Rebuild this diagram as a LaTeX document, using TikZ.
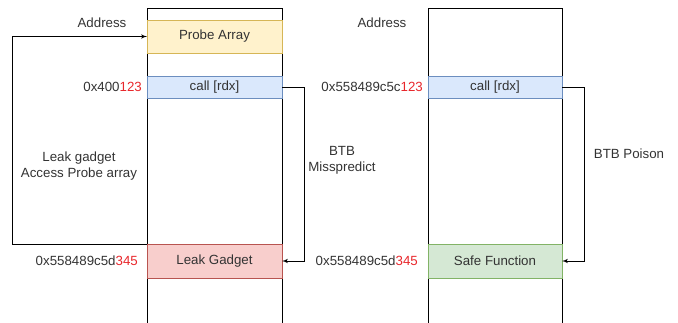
\documentclass[tikz,border=0pt]{standalone}
\usepackage{fontspec}
\setmainfont{Liberation Sans}
\usetikzlibrary{arrows}

\definecolor{probefill}{HTML}{FFF2CC}
\definecolor{probedraw}{HTML}{D6B656}
\definecolor{callfill}{HTML}{DAE8FC}
\definecolor{calldraw}{HTML}{6C8EBF}
\definecolor{leakfill}{HTML}{F8CECC}
\definecolor{leakdraw}{HTML}{B85450}
\definecolor{safefill}{HTML}{D5E8D4}
\definecolor{safedraw}{HTML}{82B366}
\definecolor{hexred}{HTML}{E8262B}
\definecolor{txt}{HTML}{333333}

\begin{document}
\begin{tikzpicture}[x=1pt,y=-1pt]

\tikzset{every node/.style = {font=\fontsize{13.3}{16}\selectfont, text=txt}}
\tikzset{cell/.style = {shape=rectangle, draw, line width=1pt, minimum width=135pt, inner sep=0pt, outer sep=0pt}}
\tikzset{addr/.style = {anchor=east, inner sep=0pt}}
\tikzset{note/.style = {align=center, inner sep=0pt}}
\tikzset{edge/.style = {->,> = latex', line width=1pt}}

\useasboundingbox (0,0) rectangle (678,322);

%memory columns
\draw[line width=1pt] (147,330) -- (147,8) -- (282,8) -- (282,330);
\draw[line width=1pt] (428,330) -- (428,8) -- (562,8) -- (562,330);

%cells
\node[cell, fill=probefill, draw=probedraw, minimum height=33pt] (probe) at (214.5,36.5) {Probe Array};
\node[cell, fill=callfill, draw=calldraw, minimum height=22pt] (call1) at (214.5,87) {call [rdx]};
\node[cell, fill=leakfill, draw=leakdraw, minimum height=34pt] (leak) at (214.5,261) {Leak Gadget};
\node[cell, fill=callfill, draw=calldraw, minimum height=22pt, minimum width=134pt] (call2) at (495,87) {call [rdx]};
\node[cell, fill=safefill, draw=safedraw, minimum height=34pt, minimum width=134pt] (safe) at (495,261) {Safe Function};

%addresses
\node (head1) at (102,23) {Address};
\node (head2) at (382,23) {Address};
\node[addr] (addr1) at (142,87) {0x400\textcolor{hexred}{123}};
\node[addr] (addr2) at (138,261) {0x558489c5d\textcolor{hexred}{345}};
\node[addr] (addr3) at (423,87) {0x558489c5c\textcolor{hexred}{123}};
\node[addr] (addr4) at (418,261) {0x558489c5d\textcolor{hexred}{345}};

%notes
\node[note] (note1) at (79,166) {Leak gadget\\Access Probe array};
\node[note] (note2) at (342,160) {BTB\\Misspredict};
\node[note] (note3) at (629,154) {BTB Poison};

%jumps
\draw[edge] (leak.north west) -- ++(-135,0) |- (probe.west);
\draw[edge] (call1.east) -- ++(22,0) |- (leak.east);
\draw[edge] (call2.east) -- ++(22,0) |- (safe.east);

\end{tikzpicture}
\end{document}
